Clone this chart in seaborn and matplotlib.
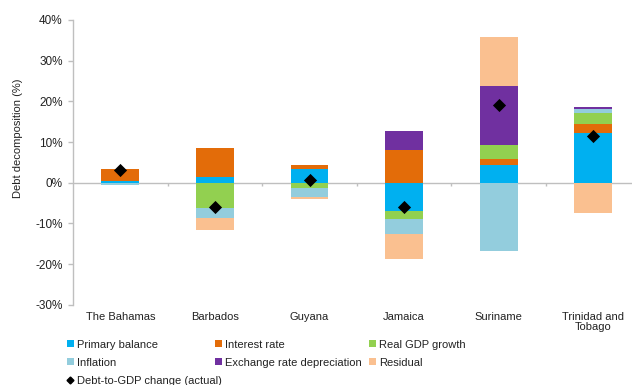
import numpy as np
import pandas as pd
import matplotlib
matplotlib.use("Agg")
import matplotlib.pyplot as plt
from matplotlib.patches import Patch
from matplotlib.lines import Line2D
import seaborn as sns

# Debt decomposition by country (percentage points of GDP)
countries = ["The Bahamas", "Barbados", "Guyana", "Jamaica", "Suriname", "Trinidad and\nTobago"]
primary_balance = [0.3, 1.4, 3.4, -7.0, 4.35, 12.2]
interest_rate = [3.1, 7.2, 1.0, 8.0, 1.4, 2.15]
real_gdp_growth = [0.0, -6.3, -1.4, -1.85, 3.6, 2.7]
inflation = [-0.5, -2.3, -2.0, -3.85, -16.7, 1.05]
exchange_rate = [0.0, 0.0, 0.0, 4.8, 14.35, 0.5]
residual = [0.0, -3.0, -0.5, -6.1, 12.1, -7.4]
debt_change = [3.1, -6.05, 0.6, -6.0, 19.1, 11.4]

components = [
    ("Primary balance", primary_balance, "#00B0F0"),
    ("Interest rate", interest_rate, "#E36C09"),
    ("Real GDP growth", real_gdp_growth, "#92D050"),
    ("Inflation", inflation, "#93CDDD"),
    ("Exchange rate depreciation", exchange_rate, "#7030A0"),
    ("Residual", residual, "#FAC090"),
]

sns.set_theme(style="white")
plt.rcParams["font.family"] = ["Liberation Sans", "DejaVu Sans"]

fig = plt.figure(figsize=(6.32, 3.85), dpi=100)
ax = fig.add_axes([73 / 632, 1 - 304.7 / 385, 567.6 / 632, 284.7 / 385])

# Separate positive and negative stacks; draw cumulative totals from the
# outermost segment inward so that inner segments paint over outer ones.
vals = np.array([c[1] for c in components], dtype=float)
pos_cum = np.cumsum(np.clip(vals, 0, None), axis=0)
neg_cum = np.cumsum(np.clip(vals, None, 0), axis=0)

for side, cum in (("pos", pos_cum), ("neg", neg_cum)):
    for i in range(len(components) - 1, -1, -1):
        seg = vals[i]
        mask = (seg > 0) if side == "pos" else (seg < 0)
        height = np.where(mask, cum[i], 0.0)
        df = pd.DataFrame({"country": countries, "value": height})
        sns.barplot(data=df, x="country", y="value", color=components[i][2],
                    saturation=1, width=0.4, errorbar=None, ax=ax,
                    linewidth=0)

df_actual = pd.DataFrame({"country": countries, "change": debt_change})
ax.scatter(np.arange(len(countries)), df_actual["change"], marker="D",
           s=45, color="black", zorder=5, linewidths=0)

ax.axhline(0, color="#BFBFBF", lw=1.0, zorder=0.5)
ax.vlines(np.arange(len(countries) - 1) + 0.5, -0.8, 0, color="#BFBFBF", lw=1.0)

ax.set_xlim(-0.5, 5.5)
ax.set_ylim(-30, 40)
ax.set_yticks(np.arange(-30, 41, 10))
ax.set_yticklabels([f"{v}%" for v in range(-30, 41, 10)])
ax.tick_params(axis="y", labelsize=8.5, colors="#BFBFBF", labelcolor="#222222",
               length=3.5, width=1, direction="out", left=True, pad=4)
ax.tick_params(axis="x", labelsize=8, labelcolor="#222222", length=0, pad=5)
for lbl in ax.get_xticklabels():
    lbl.set_linespacing(1.05)
ax.set_xlabel("")
ax.set_ylabel("")

for s in ("top", "right", "bottom"):
    ax.spines[s].set_visible(False)
ax.spines["left"].set_color("#BFBFBF")
ax.spines["left"].set_linewidth(1.0)

fig.text(18 / 632, 1 - 138 / 385, "Debt decomposition (%)", rotation=90,
         ha="center", va="center", fontsize=8, color="#222222")

def patch(name, color):
    return Patch(facecolor=color, edgecolor="none", label=name)

cols = [
    [patch(*components[0][::2]), patch(*components[3][::2]),
     Line2D([], [], marker="D", color="black", ls="none", markersize=3.5,
            label="Debt-to-GDP change (actual)")],
    [patch(*components[1][::2]), patch(*components[4][::2])],
    [patch(*components[2][::2]), patch(*components[5][::2])],
]
xpos = [67, 215, 369]
for handles, x in zip(cols, xpos):
    fig.legend(handles=handles, loc="upper left",
               bbox_to_anchor=(x / 632, 1 - 339.5 / 385), frameon=False,
               fontsize=8, handlelength=0.6, handleheight=0.6,
               handletextpad=0.3, labelspacing=0.72, borderpad=0,
               borderaxespad=0, labelcolor="#222222")

fig.savefig("out.png", dpi=100)
